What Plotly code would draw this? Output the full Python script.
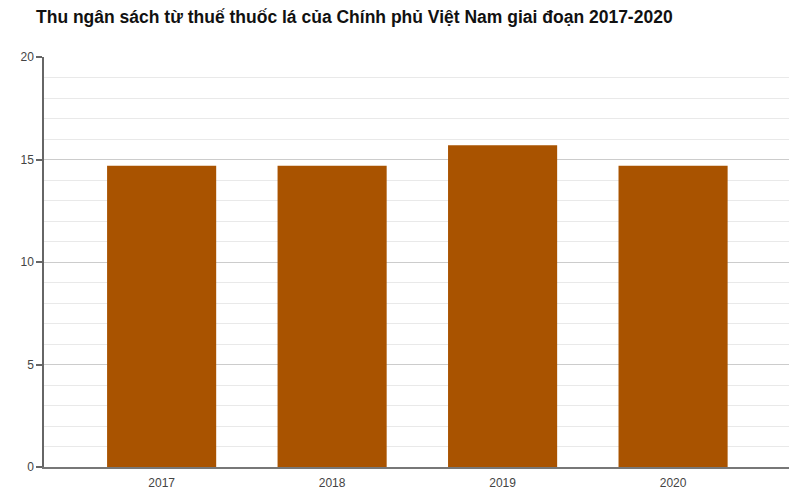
import plotly.graph_objects as go

years = ["2017", "2018", "2019", "2020"]
revenue = [14.7, 14.7, 15.7, 14.7]
y_ticks = [0, 5, 10, 15, 20]

fig = go.Figure()
fig.add_trace(go.Bar(
    x=list(range(len(years))), y=revenue,
    marker=dict(color="#A95300", line=dict(width=0)),
    width=0.64,
))

fig.update_layout(
    width=800, height=504,
    margin=dict(l=34, r=19, t=49, b=45),
    paper_bgcolor="white", plot_bgcolor="white",
    showlegend=False,
    title=dict(
        text="<b>Thu ngân sách từ thuế thuốc lá của Chính phủ Việt Nam giai đoạn 2017-2020</b>",
        x=0.035, xanchor="left", y=0.982, yanchor="middle",
        font=dict(family="Liberation Sans, Arial, sans-serif", size=17.5, color="#111"),
    ),
    font=dict(family="Liberation Sans, Arial, sans-serif", size=12, color="#444"),
)

fig.update_xaxes(
    range=[-0.69, 3.68],
    tickmode="array", tickvals=list(range(len(years))), ticktext=years,
    showgrid=False, zeroline=False,
    showline=True, linecolor="#777", linewidth=1.5,
    ticks="", ticklabelstandoff=4, tickfont=dict(size=12, color="#444"),
)
fig.update_yaxes(
    range=[0, 20],
    tickmode="array", tickvals=y_ticks,
    showgrid=True, gridcolor="#cccccc", gridwidth=1,
    minor=dict(dtick=1, showgrid=True, gridcolor="#e9e9e9", gridwidth=1, ticks=""),
    zeroline=False,
    showline=True, linecolor="#666", linewidth=1.5,
    ticks="outside", ticklen=6, tickcolor="#666", tickwidth=1.5,
    tickfont=dict(size=12, color="#444"),
)

fig.write_html("out.html")
